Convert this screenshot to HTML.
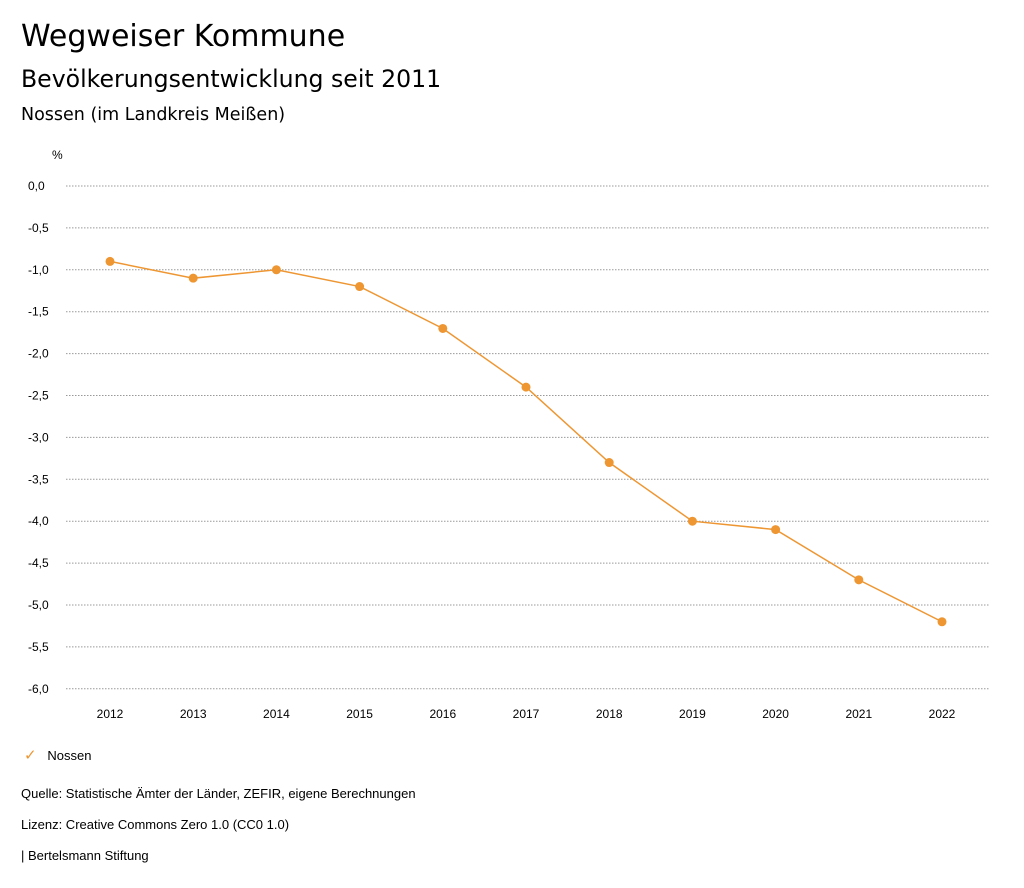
<!DOCTYPE html>
<html><head><meta charset="utf-8"><style>
body{margin:0;background:#fff;width:1024px;height:888px;overflow:hidden;font-family:"Liberation Sans",sans-serif;color:#000}
.t{position:absolute;left:21px;white-space:nowrap}
.d{font-family:"DejaVu Sans",sans-serif}
</style></head><body>
<div class="t d" style="top:19px;font-size:30px">Wegweiser Kommune</div>
<div class="t d" style="top:65px;font-size:23.6px">Bevölkerungsentwicklung seit 2011</div>
<div class="t d" style="top:105px;font-size:17.5px">Nossen (im Landkreis Meißen)</div>
<svg id="chart" width="1024" height="888" style="position:absolute;left:0;top:0"></svg>
<div class="t" style="top:746px;font-size:13px;left:24px"><span style="color:#ee9632;font-size:15px">✓</span>&nbsp;&nbsp; Nossen</div>
<div class="t" style="top:786px;font-size:13px">Quelle: Statistische Ämter der Länder, ZEFIR, eigene Berechnungen</div>
<div class="t" style="top:817px;font-size:13px">Lizenz: Creative Commons Zero 1.0 (CC0 1.0)</div>
<div class="t" style="top:848px;font-size:13px">| Bertelsmann Stiftung</div>
<script>
const years=[2012,2013,2014,2015,2016,2017,2018,2019,2020,2021,2022];
const values=[-0.9,-1.1,-1.0,-1.2,-1.7,-2.4,-3.3,-4.0,-4.1,-4.7,-5.2];
const yTicks=[0,-0.5,-1,-1.5,-2,-2.5,-3,-3.5,-4,-4.5,-5,-5.5,-6];
const svg=document.getElementById('chart');const NS='http://www.w3.org/2000/svg';
const x=i=>110+i*83.2;const y=v=>186-v*83.8;
function mk(t,a,p){const e=document.createElementNS(NS,t);for(const k in a)e.setAttribute(k,a[k]);(p||svg).appendChild(e);return e;}
const u=mk('text',{x:52,y:159,'font-size':12,'font-family':'Liberation Sans'});u.textContent='%';


yTicks.forEach(v=>{
 const g=mk('line',{x1:66,x2:990,y1:y(v),y2:y(v),stroke:'#999','stroke-dasharray':'1.5,1.5'});
 
 
 const t=mk('text',{x:28,y:y(v)+4,'font-size':12,'font-family':'Liberation Sans'});
 t.textContent=v.toFixed(1).replace('.',',').replace('-0,0','0,0');
 
 
});
years.forEach((yr,i)=>{
 const t=mk('text',{x:x(i),y:718,'font-size':12,'text-anchor':'middle','font-family':'Liberation Sans'});
 t.textContent=yr;
 
 
});
const pl=mk('polyline',{points:values.map((v,i)=>x(i)+','+y(v)).join(' '),fill:'none',stroke:'#ee9632','stroke-width':1.5});


values.forEach((v,i)=>{
 const c=mk('circle',{cx:x(i),cy:y(v),r:4.5,fill:'#ee9632'});
 
 
});
</script>
</body></html>
